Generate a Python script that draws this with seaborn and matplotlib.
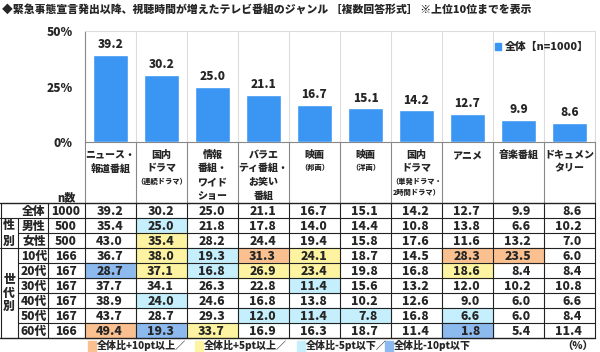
import numpy as np
import pandas as pd
import matplotlib
matplotlib.use("Agg")
import matplotlib.pyplot as plt
import seaborn as sns
from matplotlib.patches import Rectangle, Patch

# data
genres = ["ニュース・報道番組", "国内ドラマ（連続ドラマ）", "情報番組・ワイドショー",
          "バラエティ番組・お笑い番組", "映画（邦画）", "映画（洋画）",
          "国内ドラマ（単発ドラマ・2時間ドラマ）", "アニメ", "音楽番組", "ドキュメンタリー"]
header_lines = [
    [("ニュース・", 0), ("報道番組", 0)],
    [("国内", 0), ("ドラマ", 0), ("（連続ドラマ）", 1)],
    [("情報", 0), ("番組・", 0), ("ワイド", 0), ("ショー", 0)],
    [("バラエ", 0), ("ティ番組・", 0), ("お笑い", 0), ("番組", 0)],
    [("映画", 0), ("（邦画）", 1)],
    [("映画", 0), ("（洋画）", 1)],
    [("国内", 0), ("ドラマ", 0), ("（単発ドラマ・", 1), ("2時間ドラマ）", 1)],
    [("アニメ", 0)],
    [("音楽番組", 0)],
    [("ドキュメン", 0), ("タリー", 0)],
]
row_labels = ["全体", "男性", "女性", "10代", "20代", "30代", "40代", "50代", "60代"]
n_counts = [1000, 500, 500, 166, 167, 167, 167, 167, 166]
total = [39.2, 30.2, 25.0, 21.1, 16.7, 15.1, 14.2, 12.7, 9.9, 8.6]
male = [35.4, 25.0, 21.8, 17.8, 14.0, 14.4, 10.8, 13.8, 6.6, 10.2]
female = [43.0, 35.4, 28.2, 24.4, 19.4, 15.8, 17.6, 11.6, 13.2, 7.0]
age10 = [36.7, 38.0, 19.3, 31.3, 24.1, 18.7, 14.5, 28.3, 23.5, 6.0]
age20 = [28.7, 37.1, 16.8, 26.9, 23.4, 19.8, 16.8, 18.6, 8.4, 8.4]
age30 = [37.7, 34.1, 26.3, 22.8, 11.4, 15.6, 13.2, 12.0, 10.2, 10.8]
age40 = [38.9, 24.0, 24.6, 16.8, 13.8, 10.2, 12.6, 9.0, 6.0, 6.6]
age50 = [43.7, 28.7, 29.3, 12.0, 11.4, 7.8, 16.8, 6.6, 6.0, 8.4]
age60 = [49.4, 19.3, 33.7, 16.9, 16.3, 18.7, 11.4, 1.8, 5.4, 11.4]
rows = [total, male, female, age10, age20, age30, age40, age50, age60]

BAR = "#3a95f3"
C_P10, C_P5, C_M5, C_M10 = "#fac090", "#fef3a0", "#c5effc", "#8cb9ee"
W = "heavy"

sns.set_style("white")
plt.rcParams["font.family"] = ["Noto Sans CJK JP", "DejaVu Sans"]
plt.rcParams["font.weight"] = W

fig = plt.figure(figsize=(6, 3.52), dpi=100)

# full-figure axes in pixel coordinates for the table
tab = fig.add_axes([0, 0, 1, 1])
tab.set_xlim(0, 600)
tab.set_ylim(352, 0)
tab.axis("off")

x0, cw = 85, 51
col_x = [x0 + cw * i for i in range(11)]
y0, rh = 203, 15
row_y = [y0 + rh * i for i in range(10)]

tab.text(2, 9, "◆緊急事態宣言発出以降、視聴時間が増えたテレビ番組のジャンル ［複数回答形式］ ※上位10位までを表示",
         fontsize=7.8, fontweight=W, va="center", ha="left")

# bar chart
ax = fig.add_axes([x0 / 600, (352 - 142) / 352, (col_x[-1] - x0) / 600, 111 / 352])
df = pd.DataFrame({"genre": genres, "value": total})
sns.barplot(data=df, x="genre", y="value", color=BAR, width=0.67, saturation=1, ax=ax, zorder=3)
ax.set_xlim(-0.5, 9.5)
ax.set_ylim(0, 50)
ax.set_xticks([])
ax.set_xticks(np.arange(-0.5, 10, 1), minor=True)
ax.tick_params(axis="x", which="minor", length=0)
ax.grid(True, axis="x", which="minor", color="#dddddd", lw=0.8)
ax.set_yticks([0, 25, 50])
ax.set_yticklabels(["0%", "25%", "50%"], fontsize=8.5, fontweight=W)
ax.tick_params(axis="y", length=3, width=0.8, color="#888888", pad=6)
ax.set_xlabel("")
ax.set_ylabel("")
for s in ["top", "right"]:
    ax.spines[s].set_color("#dddddd")
for s in ["left", "bottom"]:
    ax.spines[s].set_color("#888888")
for i, v in enumerate(total):
    ax.text(i, v + 2.2, f"{v:.1f}", ha="center", va="bottom", fontsize=8.5, fontweight=W)
ax.legend(handles=[Patch(color=BAR, label="全体【n=1000】")], loc="upper right",
          bbox_to_anchor=(1.0, 0.96), frameon=False, prop={"size": 7.8, "weight": W},
          handlelength=0.6, handleheight=0.6, handletextpad=0.3, borderaxespad=0.2)

# header texts
for j, lines in enumerate(header_lines):
    cx = col_x[j] + cw / 2
    y = 155
    prev_small = None
    for k, (txt, small) in enumerate(lines):
        if k > 0:
            y += 11 if (small and prev_small) else (12.5 if small else 13.5)
        tab.text(cx, y, txt, ha="center", va="center", fontweight=W,
                 fontsize=5.2 if small else 7.2)
        prev_small = small
tab.text(66, 197, "n数", ha="center", va="center", fontsize=8, fontweight=W)

# cells
for r, vals in enumerate(rows):
    yc = row_y[r] + rh / 2
    for j, v in enumerate(vals):
        d = v - total[j]
        fc = None
        if r > 0:
            if d >= 10:
                fc = C_P10
            elif d >= 5:
                fc = C_P5
            elif d <= -10:
                fc = C_M10
            elif d <= -5:
                fc = C_M5
        if fc:
            tab.add_patch(Rectangle((col_x[j], row_y[r]), cw, rh, color=fc, zorder=1))
        tab.text(col_x[j + 1] - 13, yc + 0.5, f"{v:.1f}", ha="right", va="center",
                 fontsize=8.8, fontweight=W, zorder=3)
    tab.text(34, yc + 0.5, row_labels[r], ha="center", va="center", fontsize=8.5, fontweight=W)
    tab.text(66, yc + 0.5, str(n_counts[r]), ha="center", va="center", fontsize=8.6, fontweight=W)

tab.text(9, row_y[1] + rh / 2, "性", ha="center", va="center", fontsize=8.5, fontweight=W)
tab.text(9, row_y[2] + rh / 2, "別", ha="center", va="center", fontsize=8.5, fontweight=W)
for k, ch in enumerate("世代別"):
    tab.text(9, 279 + 13.5 * k, ch, ha="center", va="center", fontsize=8.5, fontweight=W)

# grid lines
lc = "#222222"
for xv in col_x:
    tab.plot([xv, xv], [142, y0], color="#888888", lw=0.8, zorder=2)
for xv in col_x + [48]:
    tab.plot([xv, xv], [y0, row_y[-1]], color=lc, lw=0.8, zorder=2)
tab.plot([0.5, 0.5], [y0, row_y[-1]], color=lc, lw=0.8, zorder=2)
tab.plot([18, 18], [row_y[1], row_y[-1]], color=lc, lw=0.8, zorder=2)
for r, yv in enumerate(row_y):
    start = 0 if r in (0, 1, 3, 9) else 18
    tab.plot([start, col_x[-1]], [yv, yv], color=lc, lw=1.0 if r in (0, 9) else 0.8, zorder=2)

# colour key under the table
ky = 345.5
keys = [(C_P10, 88, "全体比+10pt以上／"), (C_P5, 195, "全体比+5pt以上／"),
        (C_M5, 297, "全体比-5pt以下／"), (C_M10, 385, "全体比-10pt以下")]
for c, kx, lab in keys:
    tab.add_patch(Rectangle((kx, ky - 5), 8, 10, color=c))
    tab.text(kx + 9, ky, lab, ha="left", va="center", fontsize=7.2, fontweight=W)
tab.text(593, ky, "（%）", ha="right", va="center", fontsize=7.5, fontweight=W)

fig.savefig("out.png", dpi=100)
